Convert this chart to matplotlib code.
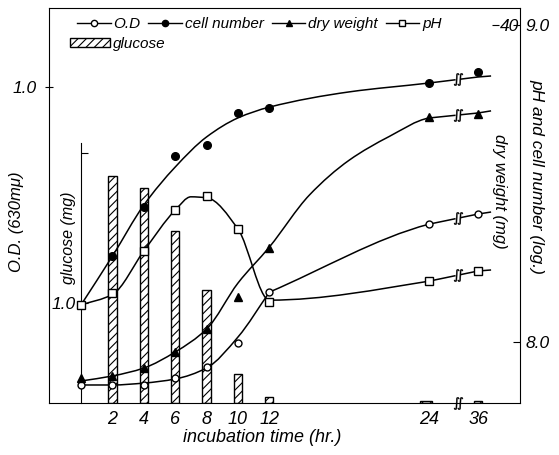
import numpy as np
import matplotlib
matplotlib.use("Agg")
import matplotlib.pyplot as plt
from matplotlib.path import Path
from matplotlib.patches import PathPatch, Patch
from matplotlib.lines import Line2D

# --- data ---
hours = [0, 2, 4, 6, 8, 10, 12, 24, 36]
od = [0.057, 0.057, 0.057, 0.079, 0.114, 0.190, 0.351, 0.566, 0.598]
cell = [8.117, 8.271, 8.426, 8.587, 8.621, 8.722, 8.738, 8.817, 8.852]
dry = [2.65, 2.86, 3.70, 5.40, 7.83, 11.22, 16.40, 30.26, 30.58]
ph = [8.117, 8.155, 8.287, 8.416, 8.461, 8.356, 8.126, 8.192, 8.224]
glucose_hours = [2, 4, 6, 8, 10, 12, 24, 36]
glucose = [2.27, 2.15, 1.72, 1.13, 0.29, 0.06, 0.02, 0.02]

# hand-drawn fitted curves (knots)
od_curve_t = [0, 2, 4, 6, 8, 10, 12, 24, 36, 39]
od_curve = [0.057, 0.057, 0.063, 0.076, 0.111, 0.209, 0.351, 0.566, 0.598, 0.604]
cell_curve_t = [0, 2, 4, 6, 8, 10, 12, 18, 24, 36, 39]
cell_curve = [8.117, 8.271, 8.432, 8.552, 8.647, 8.707, 8.741, 8.789, 8.817, 8.836, 8.839]
dry_curve_t = [0, 2, 4, 6, 8, 10, 12, 15, 18, 21, 24, 36, 39]
dry_curve = [2.33, 2.86, 3.70, 5.40, 7.83, 12.70, 16.51, 22.0, 25.7, 28.2, 30.16, 30.69, 30.9]
ph_curve_t = [0, 2, 4, 6, 7, 8, 10, 12, 24, 36, 39]
ph_curve = [8.117, 8.150, 8.287, 8.416, 8.458, 8.455, 8.356, 8.132, 8.192, 8.224, 8.227]

xtick_hours = [2, 4, 6, 8, 10, 12, 24, 36]

# --- fonts ---
plt.rcParams['font.family'] = ['Liberation Sans', 'DejaVu Sans']
plt.rcParams['font.style'] = 'italic'
plt.rcParams['hatch.linewidth'] = 0.8

# --- broken time axis: 0-12 h full scale, 12-24 and 24-36 h squeezed ---
T_BK = np.array([-100.0, 12, 24, 36, 200])
P_BK = np.array([-100.0, 12, 22.17, 25.29, 25.29 + 164 * 3.12 / 12])


def fwd(t):
    return np.interp(t, T_BK, P_BK)


def inv(p):
    return np.interp(p, P_BK, T_BK)


BREAK = (30.3, 31.8)
BREAK_MID = 31.05
BREAK_MARK = r'$\int\!\!\int$'


def pchip_slopes(x, y):
    h = np.diff(x)
    d = np.diff(y) / h
    m = np.zeros_like(y)
    for i in range(1, len(x) - 1):
        if d[i - 1] * d[i] > 0:
            w1 = 2 * h[i] + h[i - 1]
            w2 = h[i] + 2 * h[i - 1]
            m[i] = (w1 + w2) / (w1 / d[i - 1] + w2 / d[i])
    m[0] = d[0]
    m[-1] = d[-1]
    return m, d


def draw_curve(axis, t, y, t_stop=24, corners=()):
    t = np.asarray(t, float)
    y = np.asarray(y, float)
    p = fwd(t)
    m, d = pchip_slopes(p, y)
    verts = [(t[0], y[0])]
    codes = [Path.MOVETO]
    for i in range(len(t) - 1):
        if t[i] >= t_stop:
            break
        h = p[i + 1] - p[i]
        m0 = d[i] if t[i] in corners else m[i]
        m1 = d[i] if t[i + 1] in corners else m[i + 1]
        verts += [(inv(p[i] + h / 3), y[i] + m0 * h / 3),
                  (inv(p[i + 1] - h / 3), y[i + 1] - m1 * h / 3),
                  (t[i + 1], y[i + 1])]
        codes += [Path.CURVE4] * 3
    axis.add_patch(PathPatch(Path(verts, codes), fill=False, lw=1.1, ec='k', zorder=2))
    # straight part after 24 h, interrupted by the axis break
    yy = lambda tt: float(np.interp(tt, t, y))
    axis.plot([t_stop, BREAK[0]], [yy(t_stop), yy(BREAK[0])], color='k', lw=1.1)
    rest = t > BREAK[1]
    axis.plot([BREAK[1]] + list(t[rest]), [yy(BREAK[1])] + list(y[rest]), color='k', lw=1.1)
    axis.plot([BREAK_MID], [yy(BREAK_MID)], marker=BREAK_MARK, ms=9, color='k', mew=0.3)


fig = plt.figure(figsize=(5.59, 4.55), dpi=100)
L, R, B, T = 49, 520, 403, 8
W, H = 559, 455
ax = fig.add_axes([L / W, 1 - B / H, (R - L) / W, (B - T) / H])
ax.set_xscale('function', functions=(fwd, inv))
ax.set_xlim(inv(-2.04), inv(27.96))

axg = ax.twinx()   # glucose
axr = ax.twinx()   # pH and cell number (log)
axd = ax.twinx()   # dry weight
axg.set_zorder(ax.get_zorder() - 1)
ax.patch.set_visible(False)
for a in (axg, axr, axd):
    for s in a.spines.values():
        s.set_visible(False)

# O.D. on the left axis
ax.set_ylim(0, (B - T) / 316)
ax.set_yticks([1.0])
ax.set_yticklabels(['1.0'], fontsize=12.5)
ax.tick_params(axis='y', direction='inout', length=6, pad=6)
ax.set_xticks(xtick_hours)
ax.set_xticklabels([str(h) for h in xtick_hours], fontsize=13)
ax.tick_params(axis='x', length=0, pad=6)
draw_curve(ax, od_curve_t, od_curve, corners=(12,))
ax.plot(hours, od, ls='none', marker='o', ms=5, mfc='white', mec='k', mew=1, zorder=3)

# glucose bars on the inner axis
axg.set_ylim(0, (B - T) / 100)
widths = [inv(fwd(h) + 0.27) - inv(fwd(h) - 0.27) for h in glucose_hours]
axg.bar(glucose_hours, glucose, width=widths, color='white', edgecolor='k',
        lw=1, hatch='////')
axg.yaxis.tick_left()
axg.spines['left'].set_visible(True)
axg.spines['left'].set_position(('data', 0))
axg.spines['left'].set_bounds(0, 2.6)
axg.set_yticks([1.0, 2.5])
axg.set_yticklabels(['1.0', ''], fontsize=12.5)
axg.tick_params(axis='y', direction='in', length=5, pad=4)

# pH and cell number
axr.set_ylim(8.0 - (B - 342) / 317, 9.0 + (25 - T) / 317)
axr.set_yticks([8.0, 9.0])
axr.set_yticklabels(['8.0', '9.0'], fontsize=12.5)
axr.tick_params(axis='y', direction='in', length=5, pad=4)
draw_curve(axr, cell_curve_t, cell_curve)
draw_curve(axr, ph_curve_t, ph_curve)
axr.plot(hours, cell, ls='none', marker='o', ms=5.5, color='k', zorder=3)
axr.plot(hours, ph, ls='none', marker='s', ms=5.5, mfc='white', mec='k', mew=1, zorder=3)

# dry weight
axd.set_ylim(0, (B - T) / 9.45)
axd.spines['right'].set_position(('axes', (492 - L) / (R - L)))
axd.set_yticks([40])
axd.set_yticklabels(['40'], fontsize=12.5)
axd.tick_params(axis='y', direction='out', length=5, pad=1)
draw_curve(axd, dry_curve_t, dry_curve)
axd.plot(hours, dry, ls='none', marker='^', ms=6, color='k', zorder=3)

# break mark on the time axis
ax.plot([BREAK_MID], [0], marker=BREAK_MARK, ms=9, color='k', mew=0.3,
        transform=ax.get_xaxis_transform(), clip_on=False)

# axis titles
fx = lambda px: (px - L) / (R - L)
fy = lambda py: (B - py) / (B - T)
ax.text(fx(17), fy(222), 'O.D. (630m\u03bc)', rotation=90, ha='center', va='center',
        fontsize=12, transform=ax.transAxes)
ax.text(fx(69), fy(238), 'glucose (mg)', rotation=90, ha='center', va='center',
        fontsize=11.5, transform=ax.transAxes)
ax.text(fx(499), fy(191), 'dry weight (mg)', rotation=270, ha='center', va='center',
        fontsize=12, transform=ax.transAxes)
ax.text(fx(537), fy(176), 'pH and cell number (log.)', rotation=270, ha='center',
        va='center', fontsize=12.5, transform=ax.transAxes)
ax.text(fx(262), fy(437), 'incubation time (hr.)', ha='center', va='center',
        fontsize=13, transform=ax.transAxes)

# legend
h_od = Line2D([], [], color='k', lw=1, marker='o', ms=4.5, mfc='white', mec='k')
h_cell = Line2D([], [], color='k', lw=1, marker='o', ms=4.5, mfc='k', mec='k')
h_dry = Line2D([], [], color='k', lw=1, marker='^', ms=5, mfc='k', mec='k')
h_ph = Line2D([], [], color='k', lw=1, marker='s', ms=5, mfc='white', mec='k')
leg1 = ax.legend([h_od, h_cell, h_dry, h_ph], ['O.D', 'cell number', 'dry weight', 'pH'],
                 ncol=4, loc='upper left', bbox_to_anchor=(fx(77), fy(17)),
                 frameon=False, borderpad=0, borderaxespad=0, handlelength=2.2,
                 handletextpad=0.2, columnspacing=0.5, fontsize=11)
ax.add_artist(leg1)
ax.legend([Patch(facecolor='white', edgecolor='k', hatch='////', lw=1)], ['glucose'],
          loc='upper left', bbox_to_anchor=(fx(70), fy(37)), frameon=False,
          borderpad=0, borderaxespad=0, handlelength=2.6, handleheight=0.5,
          handletextpad=0.2, fontsize=11)

fig.savefig('out.png', dpi=100, facecolor='white')
